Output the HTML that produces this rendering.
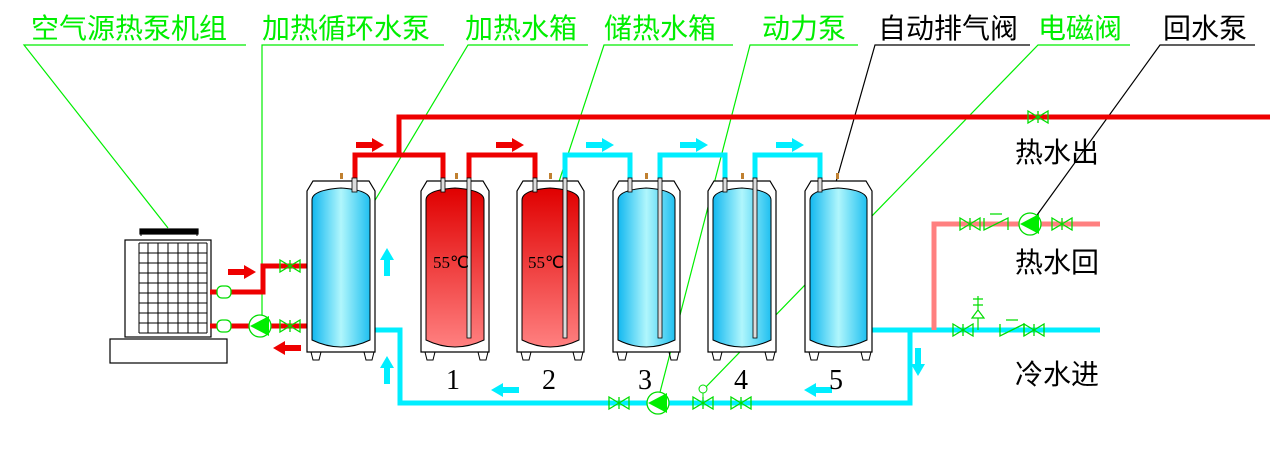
<!DOCTYPE html>
<html><head><meta charset="utf-8"><style>
html,body{margin:0;padding:0;background:#fff;}
svg{display:block;}
text{font-family:"Liberation Sans","Noto Sans CJK SC",sans-serif;}
.lab{font-size:28px;fill:#00ee00;}
.blk{font-size:28px;fill:#000;}
.num{font-family:"Liberation Serif","Noto Serif CJK SC",serif;font-size:28px;fill:#000;}
</style></head><body>
<svg width="1276" height="453" viewBox="0 0 1276 453" xmlns="http://www.w3.org/2000/svg">
<defs>
<linearGradient id="bl" x1="0" x2="1" y1="0" y2="0">
<stop offset="0" stop-color="#12b8f0"/><stop offset="0.5" stop-color="#b0f6fc"/><stop offset="1" stop-color="#20c0f0"/></linearGradient>
<linearGradient id="rd" x1="0" x2="0" y1="0" y2="1">
<stop offset="0" stop-color="#e00000"/><stop offset="1" stop-color="#ff8080"/></linearGradient>
<g id="valve"><path d="M-10,-6 L10,6 L10,-6 L-10,6 Z M0,-6 V6" fill="none" stroke="#00dd00" stroke-width="1.3"/></g>
<g id="pump"><circle r="11" fill="#fff" stroke="#00dd00" stroke-width="1.3"/><path d="M-10,0 L9,-10 L9,10 Z" fill="#00ee00"/></g>
<g id="check"><path d="M-12,-6 V6 L12,-6 V6 M-6,-10 H6" fill="none" stroke="#00dd00" stroke-width="1.3"/></g>
<g id="arR"><path d="M-14,-3 H2 V-7 L14,0 L2,7 V3 H-14 Z"/></g>
</defs>

<g>
<text class="lab" x="31" y="38">空气源热泵机组</text>
<text class="lab" x="262" y="38">加热循环水泵</text>
<text class="lab" x="465" y="38">加热水箱</text>
<text class="lab" x="604" y="38">储热水箱</text>
<text class="lab" x="762" y="38">动力泵</text>
<text class="blk" x="878" y="38">自动排气阀</text>
<text class="lab" x="1038" y="38">电磁阀</text>
<text class="blk" x="1163" y="38">回水泵</text>
</g>
<g stroke="#00ee00" stroke-width="1.2" fill="none">
<path d="M246,45 H24 L168,228"/>
<path d="M444,45 H262 V326"/>
<path d="M588,45 H468 L368,212"/>
<path d="M733,45 H604 L548,215"/>
<path d="M858,45 H750 L658,400"/>
<path d="M1130,45 H1038 L703,390"/>
</g>
<g stroke="#000" stroke-width="1.2" fill="none">
<path d="M1030,45 H875 L836,182"/>
<path d="M1255,45 H1160 L1032,222"/>
</g>

<g stroke="#000" stroke-width="1.2" fill="#fff">
<rect x="110" y="339" width="117" height="24"/>
<rect x="125" y="240" width="86" height="97"/>
<rect x="140" y="229" width="58" height="5" fill="#000"/>
</g>
<g stroke="#000" stroke-width="1" fill="none">
<path d="M141,236 V229 M197,236 V229"/>
<path d="M139,243 H207 M139,253 H207 M139,263 H207 M139,273 H207 M139,283 H207 M139,293 H207 M139,303 H207 M139,313 H207 M139,323 H207 M139,333 H207"/>
<path d="M139,243 V333 M148,243 V333 M158,243 V333 M168,243 V333 M178,243 V333 M188,243 V333 M198,243 V333 M207,243 V333"/>
</g>

<g stroke="#ee0000" stroke-width="5" fill="none">
<path d="M210,292 H263 V266 H307"/>
<path d="M210,326 H307"/>
<path d="M355,178 V155 H399 V117 H1270"/>
<path d="M399,155 H443 V178"/>
<path d="M469,178 V155 H535 V178"/>
</g>
<g stroke="#00eeff" stroke-width="5" fill="none">
<path d="M565,178 V155 H630 V178"/>
<path d="M660,178 V155 H725 V178"/>
<path d="M755,178 V155 H820 V178"/>
<path d="M375,330 H400 V403 H910 V330 H872"/>
<path d="M910,330 H1100"/>
</g>
<path d="M934,330 V224 H1100" stroke="#ff8080" stroke-width="5" fill="none"/>

<g fill="#ee0000">
<use href="#arR" x="370" y="145"/><use href="#arR" x="510" y="145"/><use href="#arR" x="242" y="272"/>
<use href="#arR" x="287" y="348" transform="rotate(180 287 348)"/>
</g>
<g fill="#00eeff">
<use href="#arR" x="600" y="145"/><use href="#arR" x="694" y="145"/><use href="#arR" x="790" y="145"/>
<use href="#arR" x="505" y="390" transform="rotate(180 505 390)"/>
<use href="#arR" x="818" y="390" transform="rotate(180 818 390)"/>
<use href="#arR" x="387" y="262" transform="rotate(-90 387 262)"/>
<use href="#arR" x="387" y="370" transform="rotate(-90 387 370)"/>
<use href="#arR" x="918" y="362" transform="rotate(90 918 362)"/>
</g>

<path d="M307,352 V191 L313,181 H369 L375,191 V352 Z" fill="#fff" stroke="#000" stroke-width="1.2"/>
<path d="M312,340 V200 Q312,190 341,188 Q370,190 370,200 V340 Q341,354 312,340 Z" fill="url(#bl)" stroke="#000" stroke-width="1"/>
<g stroke="#000" stroke-width="1.2" fill="#fff">
<path d="M421,352 V191 L427,181 H483 L489,191 V352 Z"/>
<path d="M517,352 V191 L523,181 H578 L584,191 V352 Z"/>
<path d="M613,352 V191 L619,181 H674 L680,191 V352 Z"/>
<path d="M708,352 V191 L714,181 H770 L776,191 V352 Z"/>
<path d="M805,352 V191 L811,181 H866 L872,191 V352 Z"/>
</g>
<g stroke="#000" stroke-width="1">
<path d="M426,340 V200 Q426,190 455,188 Q484,190 484,200 V340 Q455,354 426,340 Z" fill="url(#rd)"/>
<path d="M522,340 V200 Q522,190 550,188 Q579,190 579,200 V340 Q550,354 522,340 Z" fill="url(#rd)"/>
<path d="M618,340 V200 Q618,190 646,188 Q675,190 675,200 V340 Q646,354 618,340 Z" fill="url(#bl)"/>
<path d="M713,340 V200 Q713,190 742,188 Q771,190 771,200 V340 Q742,354 713,340 Z" fill="url(#bl)"/>
<path d="M810,340 V200 Q810,190 838,188 Q867,190 867,200 V340 Q838,354 810,340 Z" fill="url(#bl)"/>
</g>
<g fill="#ddd" stroke="#000" stroke-width="0.8">
<rect x="352" y="178" width="5" height="14"/>
<rect x="441" y="178" width="4" height="14"/><rect x="467" y="178" width="4" height="160"/>
<rect x="533" y="178" width="4" height="14"/><rect x="563" y="178" width="4" height="160"/>
<rect x="628" y="178" width="4" height="14"/><rect x="658" y="178" width="4" height="160"/>
<rect x="723" y="178" width="4" height="14"/><rect x="753" y="178" width="4" height="160"/>
<rect x="818" y="178" width="4" height="14"/>
</g>
<g fill="#c08030">
<rect x="340" y="173" width="3" height="6"/><rect x="455" y="173" width="3" height="6"/><rect x="549" y="173" width="3" height="6"/>
<rect x="645" y="173" width="3" height="6"/><rect x="741" y="173" width="3" height="6"/><rect x="836" y="173" width="3" height="6"/>
</g>
<g stroke="#000" fill="none" stroke-width="1">
<path d="M311,352 l2,8 h6 l2,-8 M364,352 l2,8 h6 l2,-8"/>
<path d="M425,352 l2,8 h6 l2,-8 M478,352 l2,8 h6 l2,-8"/>
<path d="M521,352 l2,8 h6 l2,-8 M573,352 l2,8 h6 l2,-8"/>
<path d="M617,352 l2,8 h6 l2,-8 M669,352 l2,8 h6 l2,-8"/>
<path d="M712,352 l2,8 h6 l2,-8 M765,352 l2,8 h6 l2,-8"/>
<path d="M809,352 l2,8 h6 l2,-8 M861,352 l2,8 h6 l2,-8"/>
</g>
<text x="433" y="268" font-size="17" fill="#000" style="font-family:'Liberation Serif',serif">55℃</text>
<text x="528" y="268" font-size="17" fill="#000" style="font-family:'Liberation Serif',serif">55℃</text>
<text class="num" x="446" y="389">1</text>
<text class="num" x="542" y="389">2</text>
<text class="num" x="638" y="389">3</text>
<text class="num" x="734" y="389">4</text>
<text class="num" x="829" y="389">5</text>

<g fill="#fff" stroke="#00dd00" stroke-width="1.3">
<rect x="217" y="286" width="14" height="12" rx="5"/><rect x="217" y="320" width="14" height="12" rx="5"/>
</g>
<use href="#valve" x="290" y="266"/><use href="#valve" x="290" y="326"/>
<use href="#pump" x="260" y="326"/>
<use href="#valve" x="619" y="403"/><use href="#pump" x="658" y="403"/>
<use href="#valve" x="703" y="403"/><use href="#valve" x="741" y="403"/>
<circle cx="703" cy="389" r="4" fill="#fff" stroke="#00dd00"/><path d="M703,393 V403" stroke="#00dd00"/>
<use href="#valve" x="970" y="224"/><use href="#check" x="996" y="224"/><use href="#pump" x="1030" y="224"/><use href="#valve" x="1062" y="224"/>
<use href="#valve" x="963" y="330"/><use href="#check" x="1012" y="330"/><use href="#valve" x="1034" y="330"/>
<path d="M978,330 V318 M972,318 L978,310 L984,318 Z M973,305 H983 M973,299 H983 M978,296 V310" fill="#fff" stroke="#00dd00" stroke-width="1.2"/>
<use href="#valve" x="1038" y="117"/>

<text class="blk" x="1015" y="162">热水出</text>
<text class="blk" x="1015" y="272">热水回</text>
<text class="blk" x="1015" y="384">冷水进</text>
</svg>
</body></html>
